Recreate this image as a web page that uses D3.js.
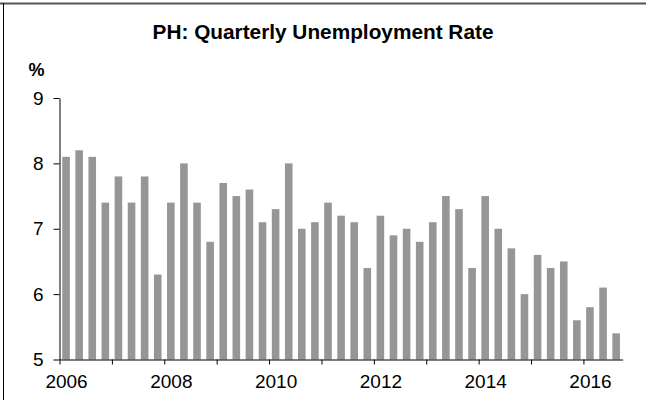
<!DOCTYPE html>
<html>
<head>
<meta charset="utf-8">
<script src="https://cdn.jsdelivr.net/npm/d3@7/dist/d3.min.js"></script>
<style>
  html, body { margin: 0; padding: 0; background: #fff; }
  svg { display: block; font-family: "Liberation Sans", Arial, sans-serif; }
</style>
</head>
<body>
<svg id="chart" width="646" height="400"></svg>
<script>
// ---- data ----
const years = [2006, 2007, 2008, 2009, 2010, 2011, 2012, 2013, 2014, 2015, 2016];
const yearLabels = ["2006", "", "2008", "", "2010", "", "2012", "", "2014", "", "2016"];
const quarters = ["Q1", "Q2", "Q3", "Q4"];
const rate2006 = [8.1, 8.2, 8.1, 7.4];
const rate2007 = [7.8, 7.4, 7.8, 6.3];
const rate2008 = [7.4, 8.0, 7.4, 6.8];
const rate2009 = [7.7, 7.5, 7.6, 7.1];
const rate2010 = [7.3, 8.0, 7.0, 7.1];
const rate2011 = [7.4, 7.2, 7.1, 6.4];
const rate2012 = [7.2, 6.9, 7.0, 6.8];
const rate2013 = [7.1, 7.5, 7.3, 6.4];
const rate2014 = [7.5, 7.0, 6.7, 6.0];
const rate2015 = [6.6, 6.4, 6.5, 5.6];
const rate2016 = [5.8, 6.1, 5.4];
const yTicks = [5, 6, 7, 8, 9];
const title = "PH: Quarterly Unemployment Rate";
const unitLabel = "%";

const byYear = [rate2006, rate2007, rate2008, rate2009, rate2010, rate2011,
                rate2012, rate2013, rate2014, rate2015, rate2016];
const data = [];
byYear.forEach((arr, i) => arr.forEach((v, q) => data.push({ key: years[i] + quarters[q], year: years[i], q, value: v })));

// ---- layout ----
const svg = d3.select("#chart");
const mLeft = 59.5, mRight = 622.7, mTop = 98, mBottom = 359.5;

const x = d3.scaleBand().domain(data.map(d => d.key)).range([mLeft, mRight])
  .paddingInner(0.42).paddingOuter(0.21);
const xIdx = d3.scaleLinear().domain([0, data.length]).range([mLeft, mRight]);
const y = d3.scaleLinear().domain([5, 9]).range([mBottom, mTop]);

// frame
svg.append("line").attr("x1", 0).attr("x2", 646).attr("y1", 3.5).attr("y2", 3.5)
  .attr("stroke", "#555").attr("stroke-width", 2);
svg.append("line").attr("x1", 3.5).attr("x2", 3.5).attr("y1", 3).attr("y2", 400)
  .attr("stroke", "#000").attr("stroke-width", 1);

// title
svg.append("text").attr("x", 323).attr("y", 39).attr("text-anchor", "middle")
  .attr("font-size", 20.8).attr("font-weight", "bold").attr("fill", "#000").text(title);
svg.append("text").attr("x", 28.5).attr("y", 76).attr("font-size", 18)
  .attr("font-weight", "bold").attr("fill", "#000").text(unitLabel);

// bars
svg.append("g").selectAll("rect").data(data).join("rect")
  .attr("x", d => x(d.key)).attr("width", x.bandwidth())
  .attr("y", d => y(d.value)).attr("height", d => y(5) - y(d.value))
  .attr("fill", "#969696");

// y axis
const yAxis = svg.append("g").attr("transform", `translate(${mLeft},0)`)
  .call(d3.axisLeft(y).tickValues(yTicks).tickSize(6).tickSizeOuter(0).tickPadding(10).tickFormat(d3.format("d")));
yAxis.select(".domain").attr("stroke", "#000");
yAxis.selectAll(".tick line").attr("stroke", "#000");
yAxis.selectAll("text").attr("font-size", 19).attr("fill", "#000")
  .attr("font-family", "'Liberation Sans', Arial, sans-serif");

// x axis
const xAxis = svg.append("g").attr("transform", `translate(0,${mBottom})`)
  .call(d3.axisBottom(xIdx).tickValues(years.map((yr, i) => i * 4))
    .tickSize(5).tickSizeOuter(0).tickPadding(10).tickFormat((d, i) => yearLabels[i]));
xAxis.select(".domain").attr("stroke", "#000");
xAxis.selectAll(".tick line").attr("stroke", "#000");
xAxis.selectAll("text").attr("font-size", 19).attr("fill", "#000")
  .attr("font-family", "'Liberation Sans', Arial, sans-serif")
  .attr("x", x.step() / 2);
</script>
</body>
</html>
